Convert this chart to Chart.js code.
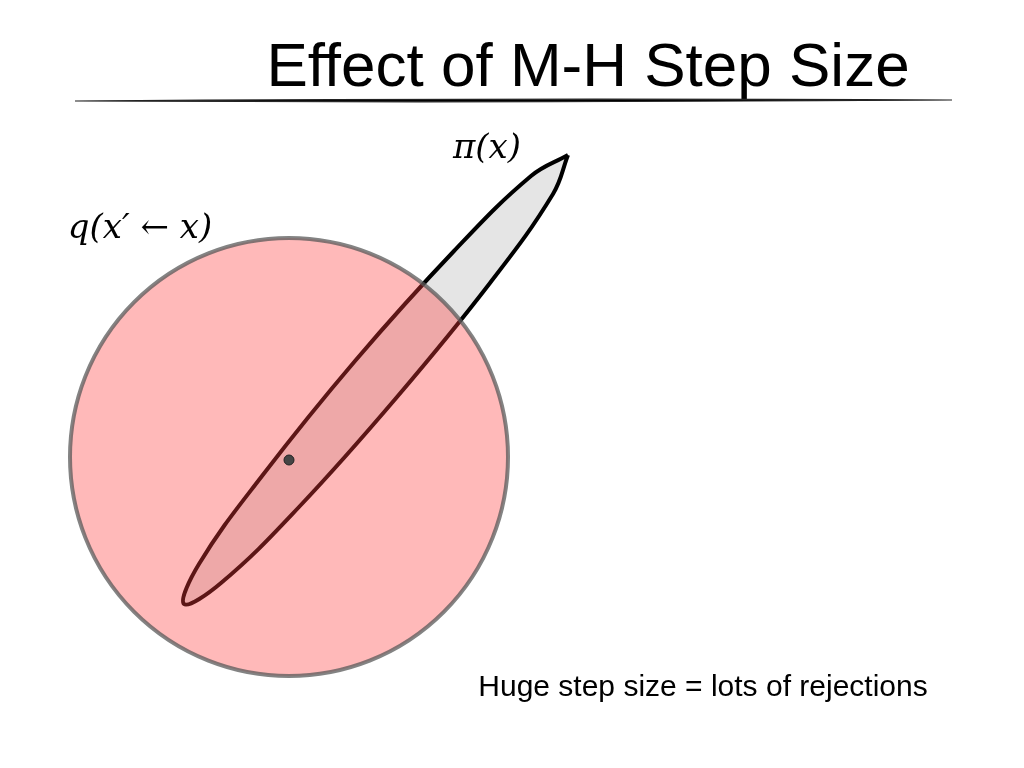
<!DOCTYPE html>
<html>
<head>
<meta charset="utf-8">
<script src="https://cdn.jsdelivr.net/npm/chart.js@4.4.1/dist/chart.umd.min.js"></script>
<style>
  html, body { margin: 0; padding: 0; background: #fff; }
  #wrap { width: 1024px; height: 768px; }
</style>
</head>
<body>
<div id="wrap"><canvas id="c"></canvas></div>
<script>
// outline of the target density pi(x) (pixel coords)
const piX = [568, 553, 490, 397, 299, 221, 184, 199, 262, 355, 454, 531, 568];
const piY = [155, 194, 283, 397, 507, 583, 604, 564, 476, 361, 251, 176, 155];
// proposal q centre and radius, and the current state x
const qCentre = [289, 457];
const qRadius = [219];
const current = [289, 460];

const titleText = 'Effect of M-H Step Size';
const piLabel = 'π(x)';
const qLabel = 'q(x′ ← x)';
const caption = 'Huge step size = lots of rejections';

const textPlugin = {
    id: 'slideText',
    afterDraw(chart) {
        const ctx = chart.ctx;
        ctx.save();
        ctx.fillStyle = '#000';
        ctx.textBaseline = 'alphabetic';
        ctx.font = '62px "Liberation Sans", Arial, sans-serif';
        ctx.textAlign = 'center';
        ctx.fillText(titleText, 588, 86);

        // tapered rule under the title
        ctx.beginPath();
        ctx.moveTo(75, 101);
        ctx.quadraticCurveTo(500, 98, 952, 100);
        ctx.quadraticCurveTo(500, 103, 75, 101);
        ctx.fill();
        ctx.lineWidth = 1.2;
        ctx.stroke();

        ctx.font = 'italic 34px "DejaVu Serif", "Liberation Serif", serif';
        ctx.fillText(piLabel, 487, 158);
        ctx.fillText(qLabel, 140, 238);

        ctx.font = '30px "Liberation Sans", Arial, sans-serif';
        ctx.fillText(caption, 703, 696);
        ctx.restore();
    }
};

new Chart(document.getElementById('c'), {
    type: 'scatter',
    data: {
        datasets: [
            {
                type: 'bubble',
                data: [{ x: current[0], y: current[1], r: 5 }],
                backgroundColor: '#444',
                borderColor: '#222',
                borderWidth: 1,
                clip: false,
                order: 0
            },
            {
                type: 'bubble',
                data: [{ x: qCentre[0], y: qCentre[1], r: qRadius[0] }],
                backgroundColor: 'rgba(255, 60, 60, 0.36)',
                borderColor: 'rgba(90, 90, 90, 0.75)',
                borderWidth: 4,
                clip: false,
                order: 1
            },
            {
                type: 'line',
                data: piX.map((x, i) => ({ x, y: piY[i] })),
                backgroundColor: '#e5e5e5',
                borderColor: '#000',
                borderWidth: 4,
                fill: 'shape',
                tension: 0.4,
                pointRadius: 0,
                clip: false,
                order: 2
            }
        ]
    },
    options: {
        responsive: true,
        maintainAspectRatio: false,
        animation: false,
        layout: { padding: 0, autoPadding: false },
        plugins: { legend: { display: false }, tooltip: { enabled: false } },
        scales: {
            x: { type: 'linear', min: 0, max: 1024, display: false },
            y: { type: 'linear', min: 0, max: 768, reverse: true, display: false }
        }
    },
    plugins: [textPlugin]
});
</script>
</body>
</html>
